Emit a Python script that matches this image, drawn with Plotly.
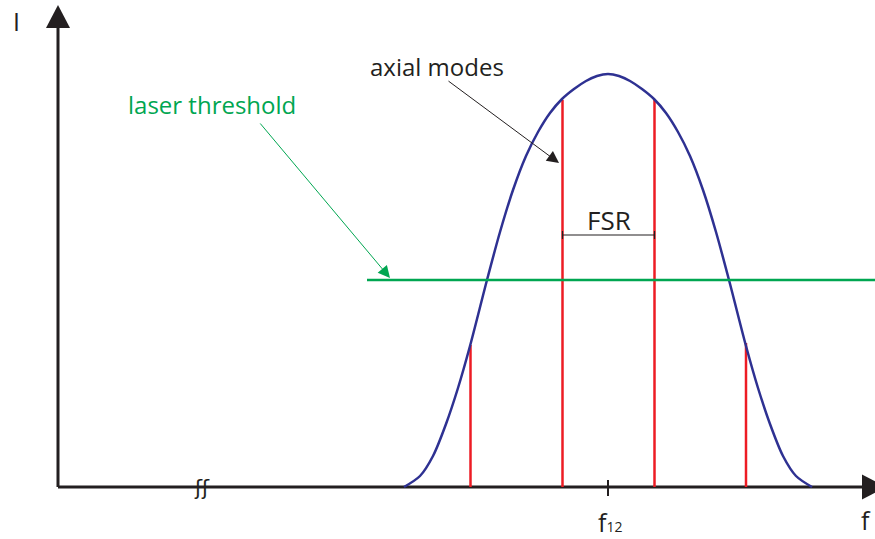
import plotly.graph_objects as go

# ---- data (frequency / intensity units, origin at axes corner) ----
curve_freq = [346, 362, 375, 388, 400, 412, 429, 442, 455, 468, 480, 492, 504, 516, 528, 539, 550,
              561, 572, 584, 596, 608, 620, 632, 645, 658, 671, 688, 700, 712, 725, 738, 754]
curve_int = [0, 11, 31, 63, 99, 141, 207, 255, 297, 331, 355, 374, 388, 398, 406, 411, 413,
             411, 406, 398, 388, 374, 355, 331, 297, 255, 207, 141, 99, 63, 31, 11, 0]

mode_freq = [412.5, 504.5, 596.5, 688]
mode_int = [142, 387, 387, 144]

threshold_level = 207
threshold_from = 309
threshold_to = 830

f12 = 550
fsr_level = 252

x_axis_len = 804
y_axis_len = 459

W, H = 875, 539
x0_px, y0_px = 58, 487

AX = "#231F20"
BLUE = "#2E3192"
RED = "#ED1C24"
GREEN = "#00A651"
FONT = "Open Sans"

fig = go.Figure()

# axes lines
fig.add_trace(go.Scatter(x=[0, x_axis_len], y=[0, 0], mode="lines",
                         line=dict(color=AX, width=3), hoverinfo="skip"))
fig.add_trace(go.Scatter(x=[0, 0], y=[0, y_axis_len], mode="lines",
                         line=dict(color=AX, width=3), hoverinfo="skip"))
# arrow heads
fig.add_trace(go.Scatter(x=[-12, 12, 0, -12], y=[y_axis_len, y_axis_len, y_axis_len + 23, y_axis_len],
                         mode="lines", fill="toself", fillcolor=AX,
                         line=dict(color=AX, width=0), hoverinfo="skip"))
fig.add_trace(go.Scatter(x=[x_axis_len, x_axis_len, x_axis_len + 24, x_axis_len],
                         y=[-12.5, 12.5, 0, -12.5],
                         mode="lines", fill="toself", fillcolor=AX,
                         line=dict(color=AX, width=0), hoverinfo="skip"))

# tick at f12
fig.add_trace(go.Scatter(x=[f12, f12], y=[-9, 7], mode="lines",
                         line=dict(color=AX, width=2), hoverinfo="skip"))

# axial modes
mx, my = [], []
for f, i in zip(mode_freq, mode_int):
    mx += [f, f, None]
    my += [0, i, None]
fig.add_trace(go.Scatter(x=mx, y=my, mode="lines",
                         line=dict(color=RED, width=2.5), hoverinfo="skip"))

# gain curve
fig.add_trace(go.Scatter(x=curve_freq, y=curve_int, mode="lines",
                         line=dict(color=BLUE, width=2.5, shape="spline", smoothing=0.8),
                         hoverinfo="skip"))

# threshold
fig.add_trace(go.Scatter(x=[threshold_from, threshold_to], y=[threshold_level] * 2,
                         mode="lines", line=dict(color=GREEN, width=2.5), hoverinfo="skip"))

# FSR bar
fx = [mode_freq[1], mode_freq[2], None, mode_freq[1], mode_freq[1], None, mode_freq[2], mode_freq[2]]
fy = [fsr_level, fsr_level, None, fsr_level - 4, fsr_level + 4, None, fsr_level - 4, fsr_level + 4]
fig.add_trace(go.Scatter(x=fx, y=fy, mode="lines",
                         line=dict(color=AX, width=1.2), hoverinfo="skip"))

ann = []
ann.append(dict(x=-42, y=466, text="I", showarrow=False,
                font=dict(family=FONT, size=25, color=AX)))
ann.append(dict(x=808, y=-33, text="f", showarrow=False,
                font=dict(family=FONT, size=25, color=AX)))
ann.append(dict(x=f12 + 2, y=-35, text="f<span style='font-size:14px'>12</span>", showarrow=False,
                font=dict(family=FONT, size=25, color=AX)))
ann.append(dict(x=f12 + 1, y=fsr_level + 15, text="FSR", showarrow=False,
                font=dict(family=FONT, size=26, color=AX)))
ann.append(dict(x=379, y=421, text="axial modes", showarrow=False,
                font=dict(family=FONT, size=24, color=AX)))
ann.append(dict(x=154, y=383, text="laser threshold", showarrow=False,
                font=dict(family=FONT, size=24, color=GREEN)))
ann.append(dict(x=144, y=-1, text="ʃʃ", showarrow=False,
                font=dict(family="DejaVu Sans", size=21, color=AX)))
# arrows
ann.append(dict(x=501, y=324, ax=389, ay=407, axref="x", ayref="y", xref="x", yref="y",
                text="", showarrow=True, arrowhead=2, arrowsize=2.4, arrowwidth=1,
                arrowcolor=AX))
ann.append(dict(x=332, y=209, ax=201, ay=365, axref="x", ayref="y", xref="x", yref="y",
                text="", showarrow=True, arrowhead=2, arrowsize=2.4, arrowwidth=1,
                arrowcolor=GREEN))

fig.update_layout(
    width=W, height=H,
    margin=dict(l=0, r=0, t=0, b=0),
    paper_bgcolor="white", plot_bgcolor="white",
    showlegend=False,
    xaxis=dict(range=[-x0_px, W - x0_px], visible=False, fixedrange=True),
    yaxis=dict(range=[y0_px - H, y0_px], visible=False, fixedrange=True),
    annotations=ann,
)

fig.write_html(
    "out.html",
    config={"displayModeBar": False, "staticPlot": True},
    post_script="document.body.style.margin='0';document.body.style.overflow='hidden';",
)
